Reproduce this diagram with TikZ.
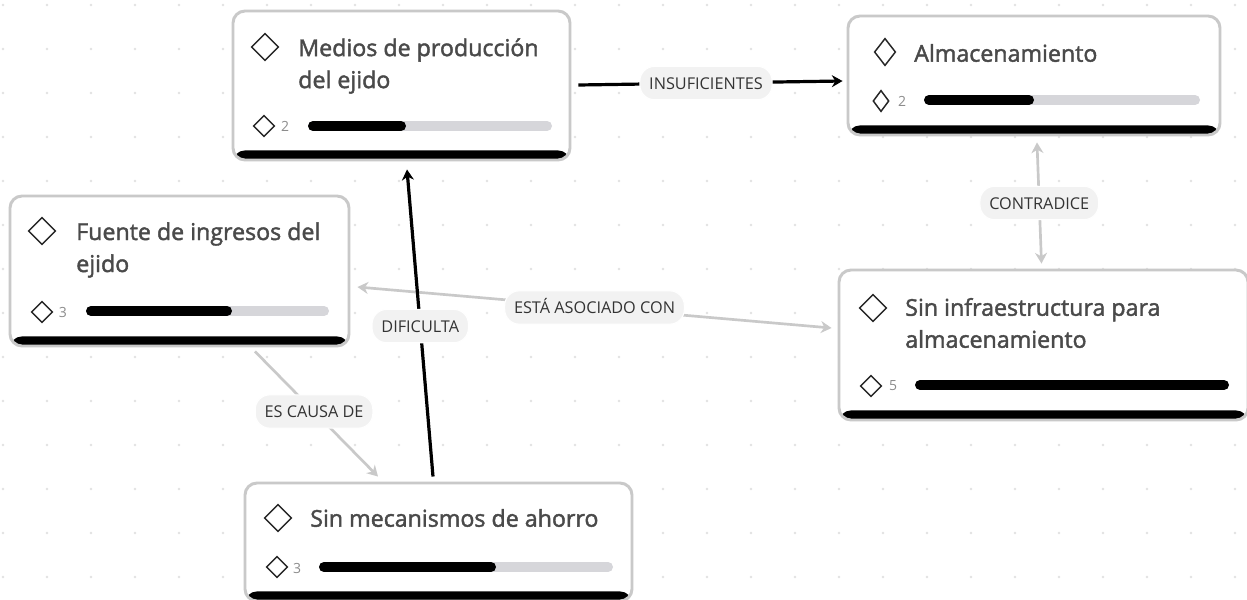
\documentclass[tikz,border=0pt]{standalone}
\usepackage{fontspec}
\setmainfont{Open Sans}
\newfontfamily\titlefont[FakeBold=1.8]{Open Sans}
\usetikzlibrary{arrows.meta, shapes.geometric}

\definecolor{cardgrey}{HTML}{C9C9C9}
\definecolor{bargrey}{HTML}{D6D6DA}
\definecolor{dotgrey}{HTML}{E2E2E2}
\definecolor{labelgrey}{HTML}{F2F2F2}
\definecolor{inkgrey}{HTML}{4A4A4A}

\tikzset{
    card/.style={
        draw=cardgrey, line width=2.2pt, fill=white, rounded corners=9pt,
        inner sep=0pt, minimum width=#1*0.75pt,
        path picture={
            \fill[black] ([yshift=7.2pt]path picture bounding box.south west)
                rectangle (path picture bounding box.south east);
        }
    },
    cardtitle/.style={
        anchor=west, align=left, inner sep=0pt, text=inkgrey,
        font=\titlefont\fontsize{17.4}{24}\selectfont
    },
    bigmark/.style={
        draw=black!85, shape=diamond, line width=1.1pt, inner sep=0pt,
        minimum width=20.5pt, minimum height=20.5pt
    },
    smallmark/.style={
        draw=black!85, shape=diamond, line width=1.1pt, inner sep=0pt,
        minimum width=16pt, minimum height=16pt
    },
    count/.style={text=black!45, inner sep=0pt, font=\fontsize{10.5}{11}\selectfont},
    barback/.style={line width=7.5pt, line cap=round, draw=bargrey},
    barfront/.style={line width=7.5pt, line cap=round, draw=black},
    linklabel/.style={
        fill=labelgrey, draw=white, line width=0.8pt, rounded corners=11pt, text=black!80,
        inner sep=0pt, minimum height=25pt, text height=9pt, text depth=0pt,
        inner xsep=7pt, font=\fontsize{12.2}{14}\selectfont
    },
    blackarrow/.style={draw=black, line width=2.4pt, -{Stealth[length=8pt, width=9pt]}},
    greyarrow/.style={draw=cardgrey, line width=2pt, -{Stealth[length=8pt, width=9pt]}},
    greyboth/.style={draw=cardgrey, line width=2pt, {Stealth[length=8pt, width=9pt]}-{Stealth[length=8pt, width=9pt]}}
}

\begin{document}
\begin{tikzpicture}[
    x=0.75pt,
    y=-0.75pt
]

\clip (0,0) rectangle (1247,600);
\fill[white] (0,0) rectangle (1247,600);

\foreach \gridx in {0,...,28}
    \foreach \gridy in {0,...,13}
        \fill[dotgrey] (3+44*\gridx,5+44*\gridy) circle (1.1pt);

\node[card=337, minimum height=149*0.75pt] (medios) at (401.5,85.5) {};
\node[card=372, minimum height=119*0.75pt] (almacen) at (1034,75.5) {};
\node[card=339, minimum height=150*0.75pt] (fuente) at (179.5,271) {};
\node[card=409, minimum height=150*0.75pt] (sininfra) at (1043.5,345) {};
\node[card=387, minimum height=118*0.75pt] (sinahorro) at (438.5,542) {};

\node[bigmark] (mediosmark) at (265,47) {};
\node[cardtitle] (mediostitle) at (298,66) {Medios de producción\\del ejido};
\node[smallmark] (medioscountmark) at (264,126) {};
\node[count] (medioscount) at (285,126) {2};
\draw[barback] (313,126) -- (547,126);
\draw[barfront] (313,126) -- (401,126);

\node[bigmark, minimum width=16pt] (almacenmark) at (885,52) {};
\node[cardtitle] (almacentitle) at (914,53) {Almacenamiento};
\node[smallmark, minimum width=12pt] (almacencountmark) at (881,101) {};
\node[count] (almacencount) at (902,101) {2};
\draw[barback] (929,100) -- (1195,100);
\draw[barfront] (929,100) -- (1029,100);

\node[bigmark] (fuentemark) at (42,231) {};
\node[cardtitle] (fuentetitle) at (76,250) {Fuente de ingresos del\\ejido};
\node[smallmark] (fuentecountmark) at (42,312) {};
\node[count] (fuentecount) at (63,312) {3};
\draw[barback] (91,311) -- (324,311);
\draw[barfront] (91,311) -- (227,311);

\node[bigmark] (sininframark) at (873,308) {};
\node[cardtitle] (sininfratitle) at (905,323) {Sin infraestructura para\\almacenamiento};
\node[smallmark] (sininfracountmark) at (871,386) {};
\node[count] (sininfracount) at (893,386) {5};
\draw[barfront] (920,385) -- (1224,385);

\node[bigmark] (sinahorromark) at (278,518) {};
\node[cardtitle] (sinahorrotitle) at (310,518) {Sin mecanismos de ahorro};
\node[smallmark] (sinahorrocountmark) at (277,567) {};
\node[count] (sinahorrocount) at (297,568) {3};
\draw[barback] (324,567) -- (608,567);
\draw[barfront] (324,567) -- (491,567);

\draw[greyboth] ([shift={(7,16)}]fuente.east) -- node[linklabel, pos=.5] (asociado) {ESTÁ ASOCIADO CON} ([shift={(-6,-17)}]sininfra.west);
\draw[greyboth] ([shift={(3,6)}]almacen.south) -- node[linklabel, pos=.5] (contradice) {CONTRADICE} ([shift={(-2,-5)}]sininfra.north);
\draw[greyarrow] ([shift={(75.5,4)}]fuente.south) -- node[linklabel, pos=.48] (causa) {ES CAUSA DE} ([shift={(-60.5,-5)}]sinahorro.north);
\draw[blackarrow] ([shift={(7,-0.5)}]medios.east) -- node[linklabel, pos=.483] (insuficientes) {INSUFICIENTES} ([shift={(-4,5.5)}]almacen.west);
\draw[blackarrow] ([shift={(-5.5,-5)}]sinahorro.north) -- node[linklabel, pos=.49] (dificulta) {DIFICULTA} ([shift={(5.5,8)}]medios.south);

\end{tikzpicture}
\end{document}
